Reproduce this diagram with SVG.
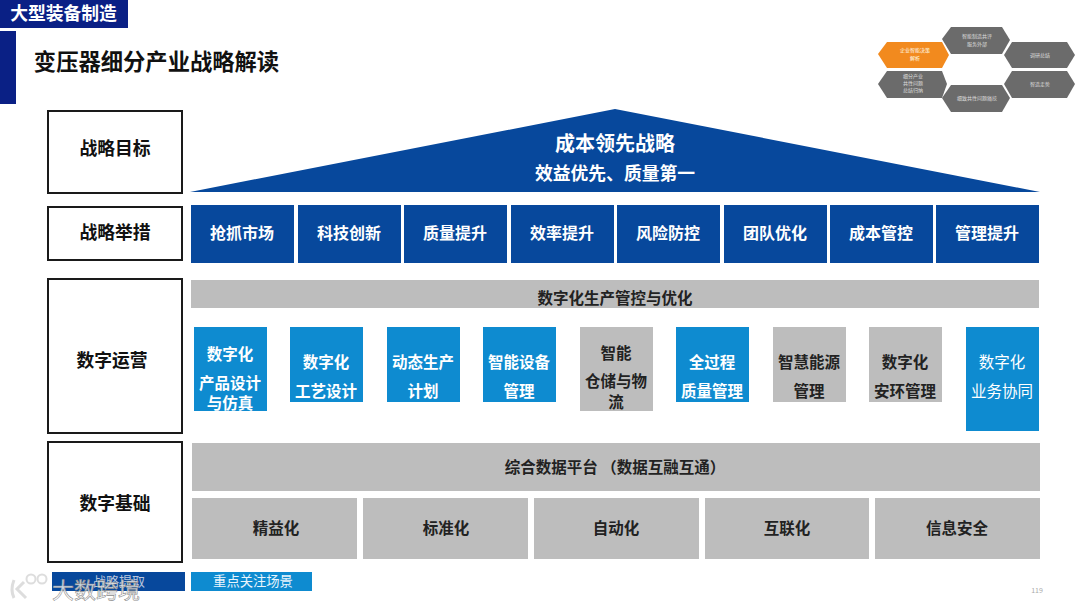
<svg xmlns="http://www.w3.org/2000/svg" width="1080" height="608" viewBox="0 0 1080 608">
<style>
text{font-family:"Noto Sans CJK SC","Liberation Sans",sans-serif;text-anchor:middle;font-weight:700}
.l rect{fill:#fff;stroke:#1a1a1a;stroke-width:2}
.l text{font-size:17.800px;fill:#111}
.n rect{fill:#07489c}
.n text{font-size:16px;fill:#fff}
.b rect{fill:#0e8bd0}
.b text{font-size:15.5px;fill:#fff}
.g rect{fill:#bdbdbd}
.g text{font-size:15.5px;fill:#222}
.h polygon{fill:#6b6b6b}
.h text{font-size:5px;fill:#ddd;font-weight:400}
</style>
<rect width="1080" height="608" fill="#fff"/>
<g id="header">
<rect x="0" y="0" width="128" height="28" fill="#0a2085"/>
<text x="63.500" y="20" style="font-size:17.800px" fill="#fff">大型装备制造</text>
<rect x="0" y="31" width="16" height="73" fill="#0a2085"/>
<text x="156.500" y="70" style="font-size:22.300px" fill="#111">变压器细分产业战略解读</text>
</g>
<g id="hex-nav" class="h">
<g id="hex1"><polygon points="878,54 887,42 942,42 949,55 942,68 887,68" style="fill:#f28a1e"/><text x="915" y="52" style="fill:#ffe">企业智能决策</text><text x="915" y="60" style="fill:#ffe">解析</text></g>
<g id="hex2"><polygon points="942,39 951,27 1002,27 1010,40 1002,54 951,54"/><text x="977" y="38">智能制造共评</text><text x="977" y="46">服务外部</text></g>
<g id="hex3"><polygon points="1004,55 1012,42 1067,42 1075,55 1067,68 1012,68"/><text x="1040" y="57">调研总结</text></g>
<g id="hex4"><polygon points="878,84 887,71 942,71 947,84 942,98 887,98"/><text x="913" y="78">细分产业</text><text x="913" y="85">共性问题</text><text x="913" y="92">总结归纳</text></g>
<g id="hex5"><polygon points="1004,84 1012,71 1067,71 1075,84 1067,98 1012,98"/><text x="1040" y="86">智造走势</text></g>
<g id="hex6"><polygon points="942,98 951,85 1002,85 1010,98 1002,112 951,112"/><text x="977" y="100">细致共性问题痛挖</text></g>
</g>
<g id="label-target" class="l"><rect x="48" y="111" width="134" height="82"/><text x="115" y="155">战略目标</text></g>
<g id="label-measure" class="l"><rect x="48" y="207" width="134" height="53"/><text x="115" y="239">战略举措</text></g>
<g id="label-ops" class="l"><rect x="48" y="279" width="134" height="154"/><text x="112" y="367">数字运营</text></g>
<g id="label-base" class="l"><rect x="48" y="442" width="134" height="120"/><text x="115" y="510">数字基础</text></g>
<g id="roof">
<polygon points="190,192 615,109 1040,192" fill="#07489c"/>
<text x="615" y="151" style="font-size:20px" fill="#fff">成本领先战略</text>
<text x="615" y="180" style="font-size:17.800px" fill="#fff">效益优先、质量第一</text>
</g>
<g id="m1" class="n"><rect x="191" y="205" width="103" height="58"/><text x="242" y="239">抢抓市场</text></g>
<g id="m2" class="n"><rect x="298" y="205" width="103" height="58"/><text x="349" y="239">科技创新</text></g>
<g id="m3" class="n"><rect x="404" y="205" width="103" height="58"/><text x="455" y="239">质量提升</text></g>
<g id="m4" class="n"><rect x="511" y="205" width="103" height="58"/><text x="562" y="239">效率提升</text></g>
<g id="m5" class="n"><rect x="617" y="205" width="103" height="58"/><text x="668" y="239">风险防控</text></g>
<g id="m6" class="n"><rect x="724" y="205" width="103" height="58"/><text x="775" y="239">团队优化</text></g>
<g id="m7" class="n"><rect x="830" y="205" width="103" height="58"/><text x="881" y="239">成本管控</text></g>
<g id="m8" class="n"><rect x="936" y="205" width="103" height="58"/><text x="987" y="239">管理提升</text></g>
<g id="prod" class="g"><rect x="191" y="280" width="848" height="28"/><text x="615" y="304">数字化生产管控与优化</text></g>
<g id="o1" class="b"><rect x="194" y="327" width="73" height="84"/><text x="230" y="360">数字化</text><text x="230" y="389">产品设计</text><text x="230" y="409">与仿真</text></g>
<g id="o2" class="b"><rect x="290" y="327" width="73" height="75"/><text x="326" y="368">数字化</text><text x="326" y="397">工艺设计</text></g>
<g id="o3" class="b"><rect x="387" y="327" width="73" height="75"/><text x="423" y="368">动态生产</text><text x="423" y="397">计划</text></g>
<g id="o4" class="b"><rect x="483" y="327" width="73" height="75"/><text x="519" y="368">智能设备</text><text x="519" y="397">管理</text></g>
<g id="o5" class="g"><rect x="580" y="327" width="73" height="84"/><text x="616" y="359">智能</text><text x="616" y="387">仓储与物</text><text x="616" y="408">流</text></g>
<g id="o6" class="b"><rect x="676" y="327" width="73" height="75"/><text x="712" y="368">全过程</text><text x="712" y="397">质量管理</text></g>
<g id="o7" class="g"><rect x="773" y="327" width="73" height="75"/><text x="809" y="368">智慧能源</text><text x="809" y="397">管理</text></g>
<g id="o8" class="g"><rect x="869" y="327" width="73" height="75"/><text x="905" y="368">数字化</text><text x="905" y="397">安环管理</text></g>
<g id="o9" class="b"><rect x="966" y="327" width="73" height="104"/><text x="1002" y="368" style="font-weight:400">数字化</text><text x="1002" y="397" style="font-weight:400">业务协同</text></g>
<g id="data" class="g"><rect x="192" y="443" width="848" height="48"/><text x="615" y="473">综合数据平台 （数据互融互通）</text></g>
<g id="f1" class="g"><rect x="192" y="498" width="165" height="61"/><text x="276" y="534">精益化</text></g>
<g id="f2" class="g"><rect x="363" y="498" width="165" height="61"/><text x="446" y="534">标准化</text></g>
<g id="f3" class="g"><rect x="534" y="498" width="165" height="61"/><text x="616" y="534">自动化</text></g>
<g id="f4" class="g"><rect x="705" y="498" width="164" height="61"/><text x="787" y="534">互联化</text></g>
<g id="f5" class="g"><rect x="875" y="498" width="165" height="61"/><text x="957" y="534">信息安全</text></g>
<g id="legend">
<rect x="52" y="572" width="133" height="19" fill="#07489c"/>
<text x="119" y="586" style="font-size:13px;font-weight:400" fill="#b9c6dc">战略提取</text>
<rect x="191" y="572" width="121" height="19" fill="#0e8bd0"/>
<text x="253" y="586" style="font-size:13.300px;font-weight:400" fill="#eaf5fc">重点关注场景</text>
</g>
<g id="watermark">
<text x="96" y="598" style="font-size:22px;font-weight:400" fill="#fff" fill-opacity=".8" stroke="#8a8a8a" stroke-width=".6">大数跨境</text>
<circle cx="31" cy="579" r="4.500" fill="none" stroke="#ddd" stroke-width="2"/>
<circle cx="42" cy="579" r="4.500" fill="none" stroke="#ddd" stroke-width="2"/>
<path d="M14 580 Q10 590 14 598 M24 582 L17 589 L26 598" fill="none" stroke="#ddd" stroke-width="3"/>
</g>
<text x="1037" y="593" style="font-size:7px;font-weight:400" fill="#aaa">119</text>
</svg>
